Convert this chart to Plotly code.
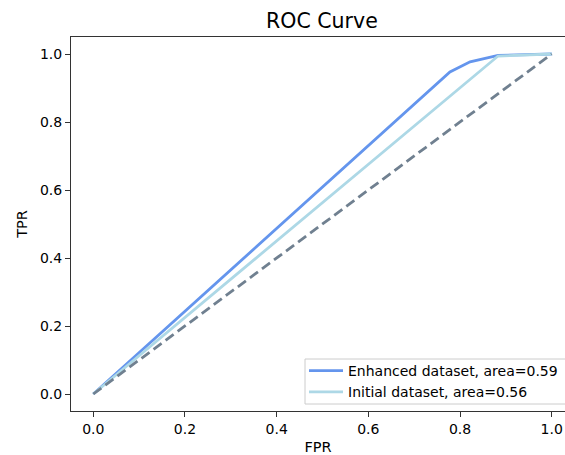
import plotly.graph_objects as go

# Data
enhanced_fpr = [0.0, 0.778, 0.822, 0.883, 1.0]
enhanced_tpr = [0.0, 0.947, 0.977, 0.996, 1.0]
initial_fpr = [0.0, 0.883, 1.0]
initial_tpr = [0.0, 0.994, 1.0]
diag = [0.0, 1.0]
series_names = ["Enhanced dataset, area=0.59", "Initial dataset, area=0.56"]
tick_vals = [0.0, 0.2, 0.4, 0.6, 0.8, 1.0]
tick_text = ["0.0", "0.2", "0.4", "0.6", "0.8", "1.0"]

FONT = "DejaVu Sans"
W, H = 565, 455
ML, MT, MB, MR = 71, 37, 44, 0
PW, PH = W - ML - MR, H - MT - MB

fig = go.Figure()
fig.add_trace(go.Scatter(x=enhanced_fpr, y=enhanced_tpr, mode="lines",
                         name=series_names[0],
                         line=dict(color="#6495ED", width=2.8)))
fig.add_trace(go.Scatter(x=initial_fpr, y=initial_tpr, mode="lines",
                         name=series_names[1],
                         line=dict(color="#ADD8E6", width=2.8)))
fig.add_trace(go.Scatter(x=diag, y=diag, mode="lines", showlegend=False,
                         line=dict(color="#708090", width=2.8, dash="10px,5px")))

axis_common = dict(showgrid=False, zeroline=False, showline=True,
                   linecolor="#333333", linewidth=1.1, automargin=False,
                   ticks="outside", ticklen=5, tickwidth=1.1, tickcolor="#333333",
                   tickvals=tick_vals, ticktext=tick_text,
                   tickfont=dict(family=FONT, size=14, color="black"))

# legend frame (extends past the right edge as in the reference)
fig.add_shape(type="rect", xref="paper", yref="paper",
              x0=(305 - ML) / PW, x1=1.03, y0=7 / PH, y1=(411 - 359) / PH,
              fillcolor="rgba(255,255,255,0.8)", line=dict(color="#CCCCCC", width=1),
              layer="above")

fig.update_layout(
    width=W, height=H,
    margin=dict(l=ML, r=MR, t=MT, b=MB, autoexpand=False),
    paper_bgcolor="white", plot_bgcolor="white",
    font=dict(family=FONT, size=14, color="black"),
    title=dict(text="ROC Curve", x=0.508, xref="paper", xanchor="center",
               y=1 - 21 / H, yref="container", yanchor="middle",
               font=dict(family=FONT, size=20.5, color="black")),
    xaxis=dict(range=[(ML - 93.3) / 458.4, (W - 93.3) / 458.4], mirror=True,
               title=dict(text="FPR", font=dict(family=FONT, size=14.5), standoff=6),
               **axis_common),
    yaxis=dict(range=[-0.05, 1.05], mirror=False,
               title=dict(text="TPR", font=dict(family=FONT, size=14.5), standoff=8),
               **axis_common),
    legend=dict(x=(304 - ML) / PW, y=3 / PH, xanchor="left", yanchor="bottom",
                xref="paper", yref="paper", itemwidth=34,
                bgcolor="rgba(0,0,0,0)", borderwidth=0,
                font=dict(family=FONT, size=14, color="black")),
    showlegend=True,
)

fig.write_html("out.html", config={"displayModeBar": False},
               post_script="document.body.style.margin='0';document.body.style.padding='0';document.body.style.overflow='hidden';")
